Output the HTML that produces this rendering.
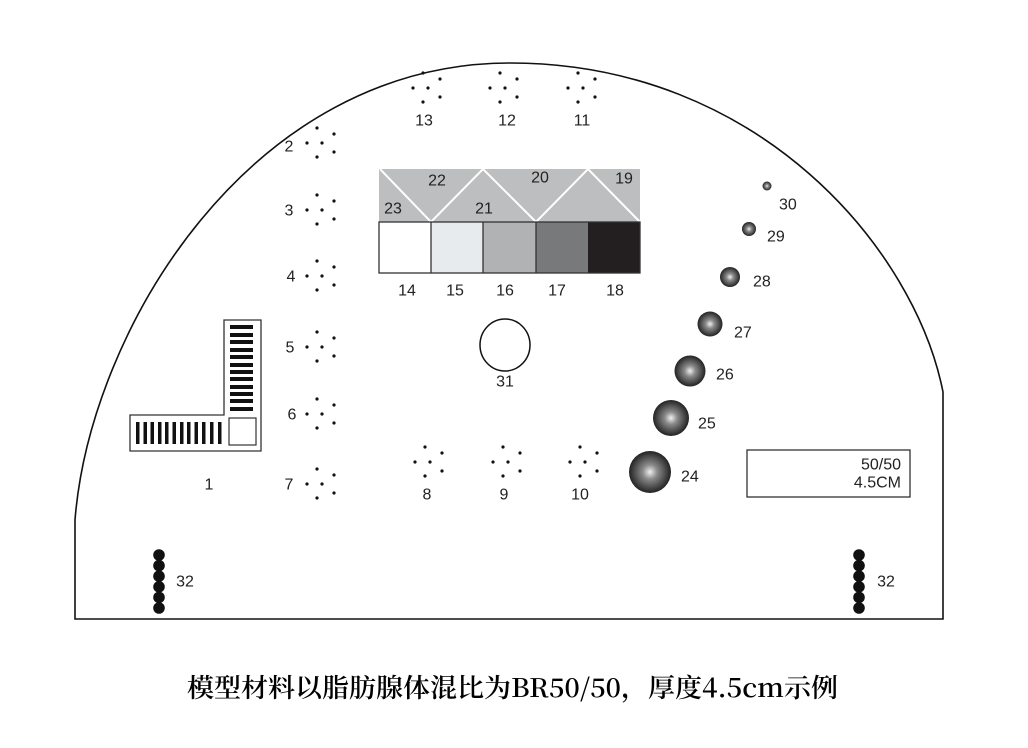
<!DOCTYPE html>
<html><head><meta charset="utf-8"><style>
html,body{margin:0;padding:0;background:#fff;}
svg{display:block}
text{font-family:"Liberation Sans",sans-serif;font-size:16px;fill:#222;}
</style></head><body>
<svg width="1028" height="748" viewBox="0 0 1028 748" xmlns="http://www.w3.org/2000/svg">
<defs>
<radialGradient id="sp" cx="0.5" cy="0.5" r="0.5" fx="0.5" fy="0.5">
<stop offset="0" stop-color="#f0f0f0"/>
<stop offset="0.35" stop-color="#8a8a8a"/>
<stop offset="1" stop-color="#222"/>
</radialGradient>
</defs>
<path d="M75,619 L75,520 C90,330 250,63 510,63 C760,63 915,250 943,392 L943,619 Z" fill="none" stroke="#111" stroke-width="1.6"/>

<g fill="#111">
<circle cx="317" cy="128" r="1.6"/><circle cx="317" cy="157" r="1.6"/><circle cx="307" cy="143" r="1.6"/><circle cx="322" cy="143" r="1.6"/><circle cx="334" cy="134" r="1.6"/><circle cx="334" cy="152" r="1.6"/>
<circle cx="317" cy="195" r="1.6"/><circle cx="317" cy="224" r="1.6"/><circle cx="307" cy="210" r="1.6"/><circle cx="322" cy="210" r="1.6"/><circle cx="334" cy="201" r="1.6"/><circle cx="334" cy="219" r="1.6"/>
<circle cx="317" cy="261" r="1.6"/><circle cx="317" cy="290" r="1.6"/><circle cx="307" cy="276" r="1.6"/><circle cx="322" cy="276" r="1.6"/><circle cx="334" cy="267" r="1.6"/><circle cx="334" cy="285" r="1.6"/>
<circle cx="317" cy="332" r="1.6"/><circle cx="317" cy="361" r="1.6"/><circle cx="307" cy="347" r="1.6"/><circle cx="322" cy="347" r="1.6"/><circle cx="334" cy="338" r="1.6"/><circle cx="334" cy="356" r="1.6"/>
<circle cx="317" cy="399" r="1.6"/><circle cx="317" cy="428" r="1.6"/><circle cx="307" cy="414" r="1.6"/><circle cx="322" cy="414" r="1.6"/><circle cx="334" cy="405" r="1.6"/><circle cx="334" cy="423" r="1.6"/>
<circle cx="317" cy="469" r="1.6"/><circle cx="317" cy="498" r="1.6"/><circle cx="307" cy="484" r="1.6"/><circle cx="322" cy="484" r="1.6"/><circle cx="334" cy="475" r="1.6"/><circle cx="334" cy="493" r="1.6"/>
<circle cx="423" cy="73" r="1.6"/><circle cx="423" cy="102" r="1.6"/><circle cx="413" cy="88" r="1.6"/><circle cx="428" cy="88" r="1.6"/><circle cx="440" cy="79" r="1.6"/><circle cx="440" cy="97" r="1.6"/>
<circle cx="500" cy="73" r="1.6"/><circle cx="500" cy="102" r="1.6"/><circle cx="490" cy="88" r="1.6"/><circle cx="505" cy="88" r="1.6"/><circle cx="517" cy="79" r="1.6"/><circle cx="517" cy="97" r="1.6"/>
<circle cx="578" cy="73" r="1.6"/><circle cx="578" cy="102" r="1.6"/><circle cx="568" cy="88" r="1.6"/><circle cx="583" cy="88" r="1.6"/><circle cx="595" cy="79" r="1.6"/><circle cx="595" cy="97" r="1.6"/>
<circle cx="425" cy="447" r="1.6"/><circle cx="425" cy="476" r="1.6"/><circle cx="415" cy="462" r="1.6"/><circle cx="430" cy="462" r="1.6"/><circle cx="442" cy="453" r="1.6"/><circle cx="442" cy="471" r="1.6"/>
<circle cx="503" cy="447" r="1.6"/><circle cx="503" cy="476" r="1.6"/><circle cx="493" cy="462" r="1.6"/><circle cx="508" cy="462" r="1.6"/><circle cx="520" cy="453" r="1.6"/><circle cx="520" cy="471" r="1.6"/>
<circle cx="580" cy="447" r="1.6"/><circle cx="580" cy="476" r="1.6"/><circle cx="570" cy="462" r="1.6"/><circle cx="585" cy="462" r="1.6"/><circle cx="597" cy="453" r="1.6"/><circle cx="597" cy="471" r="1.6"/>
</g>

<g text-anchor="middle" dominant-baseline="central">
<text x="289" y="147">2</text><text x="289" y="211">3</text><text x="291" y="277">4</text><text x="290" y="348">5</text><text x="292" y="415">6</text><text x="289" y="485">7</text>
<text x="424" y="121">13</text><text x="507" y="121">12</text><text x="582" y="121">11</text>
<text x="427" y="495">8</text><text x="504" y="495">9</text><text x="580" y="495">10</text>
<text x="209" y="485">1</text>
</g>

<rect x="379" y="169" width="261" height="53" fill="#bcbec0"/>
<polyline points="380,169 431,222 483,169 536,222 588,169 640,222" fill="none" stroke="#fff" stroke-width="2"/>
<rect x="379" y="222" width="52" height="51" fill="#fff"/>
<rect x="431" y="222" width="52" height="51" fill="#e8ebed"/>
<rect x="483" y="222" width="53" height="51" fill="#b0b2b4"/>
<rect x="536" y="222" width="52" height="51" fill="#77797b"/>
<rect x="588" y="222" width="52" height="51" fill="#231f20"/>
<g fill="none" stroke="#333" stroke-width="1.3">
<rect x="379" y="222" width="261" height="51"/>
<line x1="431" y1="222" x2="431" y2="273"/><line x1="483" y1="222" x2="483" y2="273"/><line x1="536" y1="222" x2="536" y2="273"/>
</g>
<g text-anchor="middle" dominant-baseline="central">
<text x="437" y="181">22</text><text x="540" y="178">20</text><text x="624" y="179">19</text>
<text x="393" y="209">23</text><text x="484" y="209">21</text>
<text x="407" y="291">14</text><text x="455" y="291">15</text><text x="505" y="291">16</text><text x="557" y="291">17</text><text x="615" y="291">18</text>
</g>

<ellipse cx="505" cy="345" rx="25" ry="26" fill="none" stroke="#111" stroke-width="1.5"/>
<text x="505" y="382" text-anchor="middle" dominant-baseline="central">31</text>

<circle cx="767" cy="186" r="4.5" fill="url(#sp)"/>
<circle cx="749" cy="229" r="7" fill="url(#sp)"/>
<circle cx="730" cy="277" r="10" fill="url(#sp)"/>
<circle cx="710" cy="324" r="12.5" fill="url(#sp)"/>
<circle cx="690" cy="371" r="15.5" fill="url(#sp)"/>
<circle cx="671" cy="418" r="18" fill="url(#sp)"/>
<circle cx="650" cy="472" r="21" fill="url(#sp)"/>
<g dominant-baseline="central">
<text x="779" y="205">30</text><text x="767" y="237">29</text><text x="753" y="282">28</text><text x="734" y="333">27</text><text x="716" y="375">26</text><text x="698" y="424">25</text><text x="681" y="477">24</text>
</g>

<rect x="747" y="450" width="163" height="47" fill="#fff" stroke="#333" stroke-width="1.3"/>
<text x="901" y="465" text-anchor="end" dominant-baseline="central">50/50</text>
<text x="901" y="483" text-anchor="end" dominant-baseline="central">4.5CM</text>

<path d="M224,320 H261 V451 H130 V415 H224 Z" fill="#fff" stroke="#333" stroke-width="1.3"/>
<g fill="#111">
<rect x="230" y="325" width="23" height="4"/><rect x="230" y="333" width="23" height="4"/><rect x="230" y="340" width="23" height="4"/><rect x="230" y="348" width="23" height="4"/><rect x="230" y="355" width="23" height="4"/><rect x="230" y="363" width="23" height="4"/><rect x="230" y="370" width="23" height="4"/><rect x="230" y="377" width="23" height="4"/><rect x="230" y="385" width="23" height="4"/><rect x="230" y="392" width="23" height="4"/><rect x="230" y="399" width="23" height="4"/><rect x="230" y="407" width="23" height="4"/>
<rect x="136" y="422" width="3.5" height="22"/><rect x="143.5" y="422" width="3.5" height="22"/><rect x="150.5" y="422" width="3.5" height="22"/><rect x="158" y="422" width="3.5" height="22"/><rect x="165" y="422" width="3.5" height="22"/><rect x="172.5" y="422" width="3.5" height="22"/><rect x="180" y="422" width="3.5" height="22"/><rect x="187" y="422" width="3.5" height="22"/><rect x="194.5" y="422" width="3.5" height="22"/><rect x="202" y="422" width="3.5" height="22"/><rect x="210" y="422" width="3.5" height="22"/><rect x="218" y="422" width="3.5" height="22"/>
</g>
<rect x="229" y="418" width="27" height="27" fill="#fff" stroke="#333" stroke-width="1.2"/>

<g fill="#111">
<circle cx="159" cy="555" r="5.8"/><circle cx="159" cy="565.6" r="5.8"/><circle cx="159" cy="576.2" r="5.8"/><circle cx="159" cy="586.8" r="5.8"/><circle cx="159" cy="597.4" r="5.8"/><circle cx="159" cy="608" r="5.8"/>
<circle cx="859" cy="555" r="5.8"/><circle cx="859" cy="565.6" r="5.8"/><circle cx="859" cy="576.2" r="5.8"/><circle cx="859" cy="586.8" r="5.8"/><circle cx="859" cy="597.4" r="5.8"/><circle cx="859" cy="608" r="5.8"/>
</g>
<text x="185" y="582" text-anchor="middle" dominant-baseline="central">32</text>
<text x="886" y="582" text-anchor="middle" dominant-baseline="central">32</text>

<text x="187" y="697" textLength="651" lengthAdjust="spacingAndGlyphs" style="font-family:'Noto Serif CJK SC','Liberation Mono',serif;font-size:26px;fill:#000;font-weight:600">模型材料以脂肪腺体混比为BR50/50，厚度4.5cm示例</text>
</svg>
</body></html>
